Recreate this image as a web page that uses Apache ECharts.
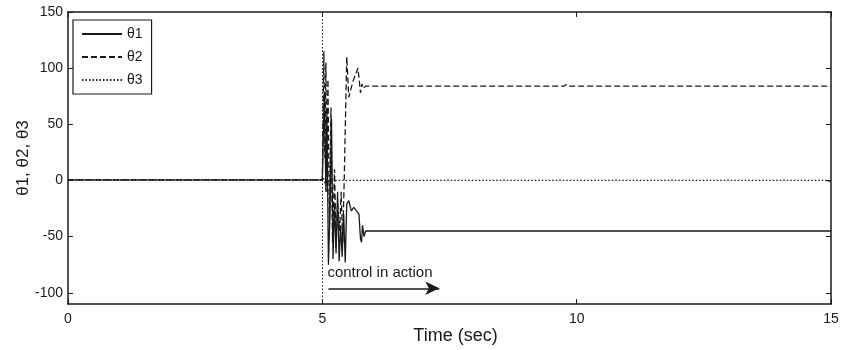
<!DOCTYPE html>
<html><head><meta charset="utf-8">
<script src="https://cdn.jsdelivr.net/npm/echarts@6/dist/echarts.min.js"></script>
<style>html,body{margin:0;padding:0;background:#fff}#c{width:841px;height:350px}</style>
</head><body><div id="c"></div>
<script>
const seriesNames = ['θ1', 'θ2', 'θ3'];
const theta1 = [[0,0.5],[5.0,0.5],[5.02,40],[5.04,75],[5.07,-10],[5.09,60],[5.12,-75],[5.15,-30],[5.18,55],[5.21,-70],[5.24,-20],[5.27,-65],[5.3,-10],[5.33,-72],[5.36,-40],[5.39,-68],[5.42,-30],[5.45,-73],[5.48,-21],[5.52,-18],[5.57,-27],[5.62,-24],[5.67,-27],[5.72,-30],[5.75,-52],[5.77,-55],[5.79,-40],[5.82,-50],[5.85,-45],[15,-45]];
const theta2 = [[0,0.5],[5.0,0.5],[5.03,115],[5.05,20],[5.07,105],[5.09,-10],[5.11,90],[5.14,-40],[5.17,65],[5.2,-55],[5.24,10],[5.27,-60],[5.3,-20],[5.34,-45],[5.37,-10],[5.4,-55],[5.43,0],[5.48,110],[5.52,74],[5.6,88],[5.7,100],[5.75,78],[5.78,86],[5.8,82],[5.85,84],[9.75,84],[9.8,85.5],[9.85,84],[15,84]];
const theta3 = [[0,0],[5.0,0],[5.02,3],[5.05,-3],[5.08,2],[5.12,-2],[5.15,0],[14.9,0],[14.95,-1],[15,0]];
const xTicks = [0,5,10,15];
const yTicks = [-100,-50,0,50,100,150];
const controlStart = 5;
const arrowStart = 5.12, arrowEnd = 7.3, arrowY = -96;
const annotationText = 'control in action';
const textX = 5.09, textY = -82.5;

const FONT = 'Liberation Sans, Arial, sans-serif';
const C = '#1a1a1a';
const chart = echarts.init(document.getElementById('c'));
const baseAxisLine = {show:true, onZero:false, lineStyle:{color:C, width:1.5}};
const tickStyle = {show:true, inside:true, length:5, lineStyle:{color:C, width:1}};
chart.setOption({
  animation:false,
  backgroundColor:'#fff',
  grid:{left:68, right:10, top:12, bottom:46, containLabel:false, outerBoundsMode:'none'},
  legend:{
    orient:'vertical', left:73, top:20, itemWidth:40, itemHeight:10, itemGap:9,
    padding:[7,9,7,8], borderColor:C, borderWidth:1.2, backgroundColor:'#fff',
    textStyle:{fontFamily:FONT, fontSize:14, color:C},
    itemStyle:{color:'rgba(0,0,0,0)', borderWidth:0, opacity:0},
    data:seriesNames
  },
  xAxis:[{
    type:'value', min:0, max:15, position:'bottom',
    name:'Time (sec)', nameLocation:'middle', nameGap:23, nameMoveOverlap:false,
    nameTextStyle:{fontFamily:FONT, fontSize:18, color:C, padding:[0,0,0,12]},
    axisLine:baseAxisLine, splitLine:{show:false},
    axisTick:Object.assign({customValues:xTicks}, tickStyle),
    axisLabel:{customValues:xTicks, fontFamily:FONT, fontSize:14, color:C, margin:8}
  },{
    type:'value', min:0, max:15, position:'top',
    axisLine:baseAxisLine, splitLine:{show:false},
    axisTick:Object.assign({customValues:xTicks}, tickStyle),
    axisLabel:{show:false}
  }],
  yAxis:[{
    type:'value', min:-110, max:150, position:'left',
    name:'θ1, θ2, θ3', nameLocation:'middle', nameGap:36, nameMoveOverlap:false,
    nameTextStyle:{fontFamily:FONT, fontSize:17, color:C},
    axisLine:baseAxisLine, splitLine:{show:false},
    axisTick:Object.assign({customValues:yTicks}, tickStyle),
    axisLabel:{customValues:yTicks, fontFamily:FONT, fontSize:14, color:C, margin:5}
  },{
    type:'value', min:-110, max:150, position:'right',
    axisLine:baseAxisLine, splitLine:{show:false},
    axisTick:Object.assign({customValues:yTicks}, tickStyle),
    axisLabel:{show:false}
  }],
  series:[{
    name:seriesNames[0], type:'line', symbol:'none', data:theta1, z:3,
    lineStyle:{color:C, width:1.3, type:'solid'}, itemStyle:{color:C},
    markLine:{silent:true, symbol:['none','none'], animation:false,
      lineStyle:{color:C, width:1, type:[1.5,2]}, label:{show:false},
      data:[{xAxis:controlStart}]},
  },{
    name:seriesNames[1], type:'line', symbol:'none', data:theta2, z:3,
    lineStyle:{color:C, width:1.3, type:[6,3]}, itemStyle:{color:C},
    markLine:{silent:true, symbol:['none','arrow'], symbolSize:[10,14], animation:false,
      lineStyle:{color:C, width:1.5, type:'solid'}, label:{show:false},
      data:[[{coord:[arrowStart, arrowY]},{coord:[arrowEnd, arrowY]}]]},
    markPoint:{silent:true, symbol:'rect', symbolSize:1, itemStyle:{color:'rgba(0,0,0,0)'},
      label:{show:true, position:'right', distance:0, formatter:annotationText, fontFamily:FONT, fontSize:15, color:C},
      data:[{coord:[textX, textY]}]}
  },{
    name:seriesNames[2], type:'line', symbol:'none', data:theta3, z:3,
    lineStyle:{color:C, width:1.3, type:[1.5,2]}, itemStyle:{color:C}
  }]
});
</script></body></html>
